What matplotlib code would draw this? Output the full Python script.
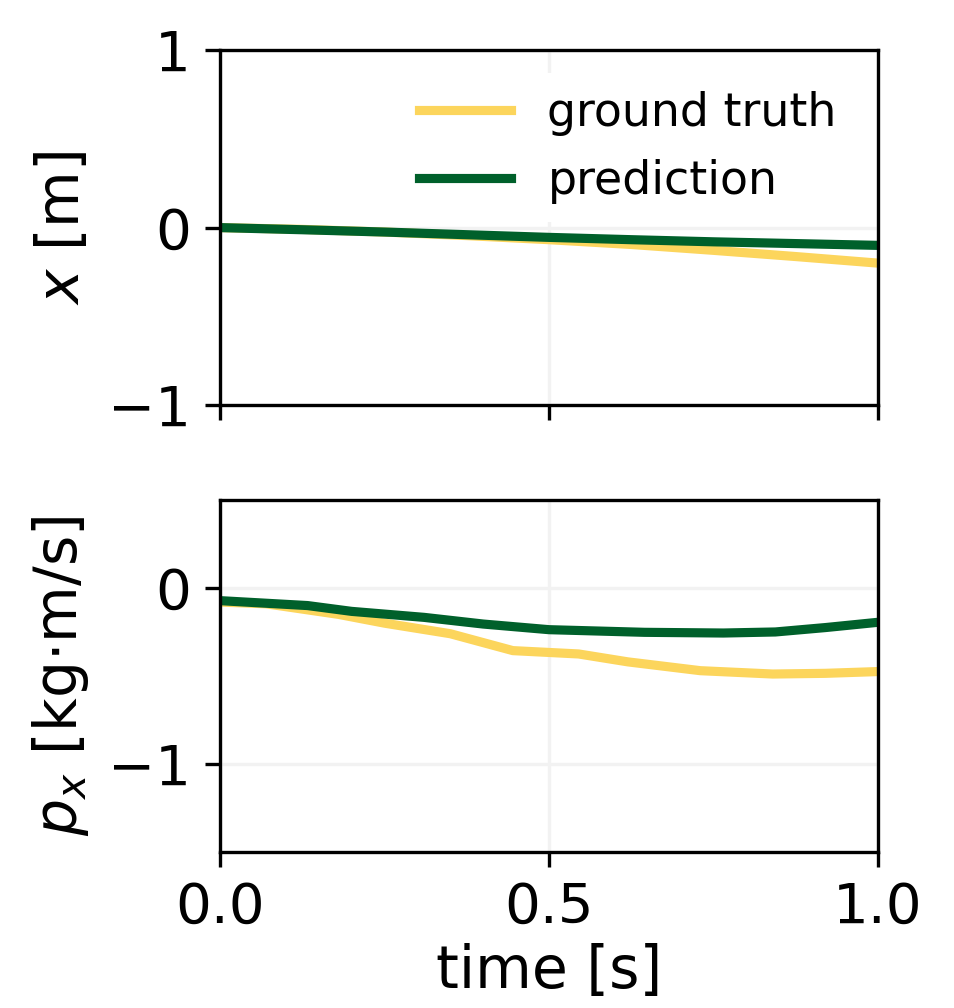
import matplotlib
matplotlib.use("Agg")
import matplotlib.pyplot as plt
import numpy as np

# values
t_x = [0.0, 0.125, 0.25, 0.375, 0.5, 0.625, 0.75, 0.875, 1.0]
x_true = [0.0, -0.010, -0.025, -0.045, -0.068, -0.095, -0.128, -0.163, -0.200]
x_pred = [0.0, -0.012, -0.025, -0.040, -0.055, -0.068, -0.080, -0.090, -0.100]

t_pt = [0.0, 0.07, 0.18, 0.25, 0.30, 0.35, 0.445, 0.545, 0.62, 0.73, 0.84, 0.92, 1.0]
p_true = [-0.08, -0.09, -0.15, -0.20, -0.23, -0.26, -0.356, -0.375, -0.42, -0.47, -0.489, -0.485, -0.475]
t_pp = [0.0, 0.133, 0.20, 0.31, 0.40, 0.5, 0.645, 0.765, 0.844, 0.92, 1.0]
p_pred = [-0.072, -0.10, -0.133, -0.167, -0.205, -0.237, -0.252, -0.256, -0.25, -0.225, -0.195]

yellow = '#fcd55c'
green = '#00602b'

plt.rcParams['font.size'] = 14
plt.rcParams['xtick.labelsize'] = 13.5
plt.rcParams['ytick.labelsize'] = 13.5
fig = plt.figure(figsize=(955 / 300, 1008 / 300), dpi=300)
ax1 = fig.add_axes([0.2304, 0.598, 0.689, 0.3524])
ax2 = fig.add_axes([0.2304, 0.1548, 0.689, 0.3492], sharex=ax1)

for ax in (ax1, ax2):
    ax.grid(True, color='#f2f2f2', linewidth=0.8)
    ax.set_axisbelow(True)

ax1.plot(t_x, x_true, color=yellow, lw=2.2, label='ground truth')
ax1.plot(t_x, x_pred, color=green, lw=2.2, label='prediction')
ax1.set_ylim(-1, 1)
ax1.set_yticks([-1, 0, 1])
ax1.set_ylabel('$x$ [m]')
ax1.tick_params(labelbottom=False)
leg = ax1.legend(loc='upper right', fontsize=11, frameon=True, framealpha=1,
                 edgecolor='none', handlelength=2.0, handletextpad=0.8,
                 borderaxespad=0.5)

ax2.plot(t_pt, p_true, color=yellow, lw=2.2)
ax2.plot(t_pp, p_pred, color=green, lw=2.2)
ax2.set_ylim(-1.5, 0.5)
ax2.set_yticks([-1, 0])
ax2.set_ylabel('$p_x$ [kg$\\cdot$m/s]')
ax2.set_xlim(0, 1)
ax2.set_xticks([0.0, 0.5, 1.0])
ax2.set_xlabel('time [s]', labelpad=2)

fig.savefig('out.png', dpi=300)
